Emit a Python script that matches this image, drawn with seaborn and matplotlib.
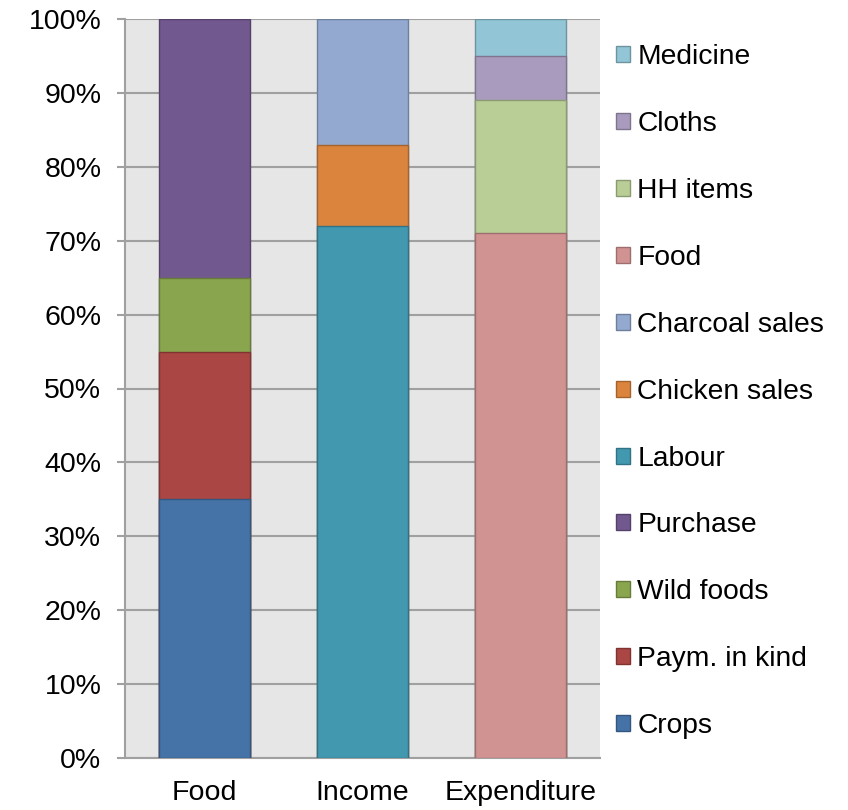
import matplotlib
matplotlib.use("Agg")
import matplotlib.pyplot as plt
import seaborn as sns
import pandas as pd
from matplotlib.patches import Patch
from matplotlib.ticker import FuncFormatter

categories = ["Food", "Income", "Expenditure"]
# stacking order bottom->top within each category
series_names = ["Crops", "Paym. in kind", "Wild foods", "Purchase",
                "Labour", "Chicken sales", "Charcoal sales",
                "Food ", "HH items", "Cloths", "Medicine"]
series_category = ["Food", "Food", "Food", "Food",
                   "Income", "Income", "Income",
                   "Expenditure", "Expenditure", "Expenditure", "Expenditure"]
series_values = [35, 20, 10, 35,
                 72, 11, 17,
                 71, 18, 6, 5]
face_colors = ["#4572A7", "#AA4643", "#89A54E", "#71588F",
               "#4198AF", "#DB843D", "#93A9CF",
               "#D19392", "#B9CD96", "#A99BBD", "#92C5D6"]
edge_colors = ["#34567F", "#7F3432", "#677C3A", "#54426B",
               "#317284", "#A4632E", "#6E7F9B",
               "#9D6E6D", "#8B9A70", "#7F748E", "#6D94A0"]
y_ticks = [0, 10, 20, 30, 40, 50, 60, 70, 80, 90, 100]

df = pd.DataFrame({"series": series_names, "category": series_category,
                   "value": series_values, "face": face_colors, "edge": edge_colors})
df["top"] = df.groupby("category")["value"].cumsum()

sns.set_theme(style="white")
plt.rcParams["font.family"] = ["Liberation Sans", "DejaVu Sans"]
plt.rcParams["text.color"] = "black"

fig = plt.figure(figsize=(8.48, 8.10), dpi=100)
ax = fig.add_axes([125/848, 1-758/810, 475/848, (758-19)/810])
ax.set_facecolor("#E6E6E6")

for i in reversed(range(len(df))):
    row = df.iloc[[i]]
    sns.barplot(data=row, x="category", y="top", order=categories,
                color=row["face"].iloc[0], saturation=1, width=0.575,
                edgecolor=row["edge"].iloc[0], linewidth=1.0, ax=ax, zorder=3)

ax.set_xlim(-0.5, 2.5)
ax.set_ylim(0, 100)
ax.set_yticks(y_ticks)
ax.yaxis.set_major_formatter(FuncFormatter(lambda v, p: f"{int(v)}%"))
ax.grid(axis="y", color="#A0A0A0", linewidth=1.5, zorder=0)
ax.set_axisbelow(True)
ax.set_xlabel("")
ax.set_ylabel("")
for s in ["top", "right"]:
    ax.spines[s].set_visible(False)
for s in ["left", "bottom"]:
    ax.spines[s].set_color("#A0A0A0")
    ax.spines[s].set_linewidth(1.5)
ax.tick_params(axis="y", left=True, length=6, width=1.5, color="#A0A0A0",
               labelsize=20.5, pad=11, labelcolor="black")
ax.tick_params(axis="x", bottom=False, labelsize=20.5, pad=10, labelcolor="black")

handles = [Patch(facecolor=df["face"].iloc[i], edgecolor=df["edge"].iloc[i],
                 linewidth=1.0, label=df["series"].iloc[i].strip())
           for i in reversed(range(len(df)))]
leg = fig.legend(handles=handles, loc="upper left",
                 bbox_to_anchor=(605/848, 1-33/810), frameon=False,
                 fontsize=20.3, handlelength=0.5, handleheight=0.5,
                 handletextpad=0.25, labelspacing=1.45, borderaxespad=0,
                 labelcolor="black")

fig.savefig("out.png", dpi=100)
